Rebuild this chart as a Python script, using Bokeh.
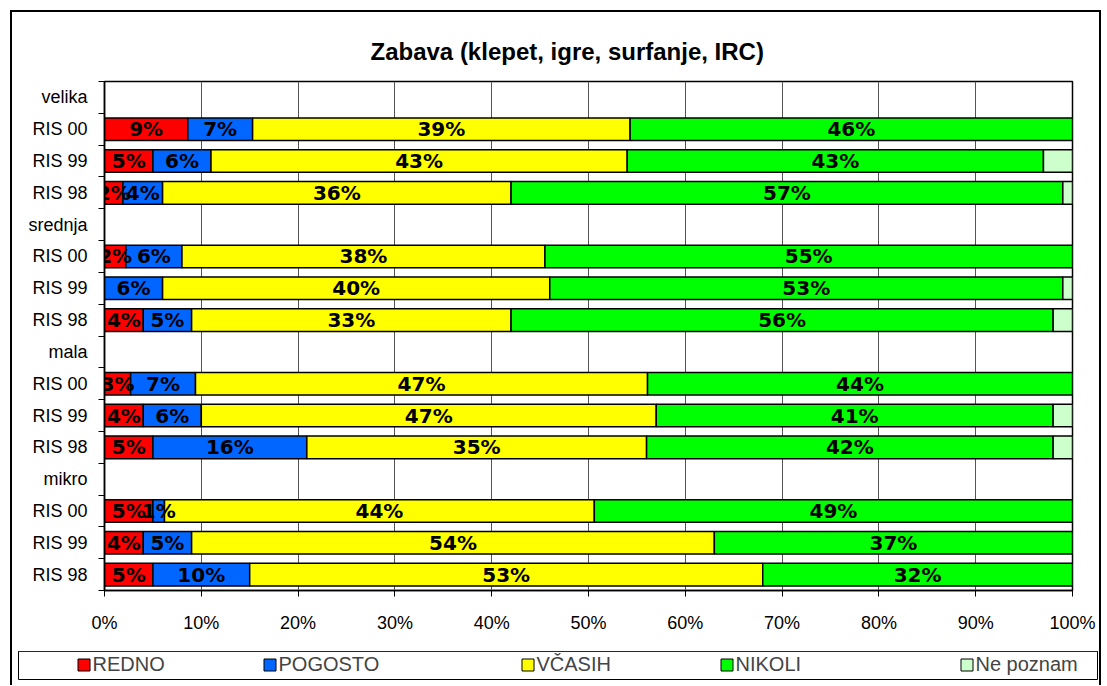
from bokeh.plotting import figure
from bokeh.layouts import column
from bokeh.models import (Range1d, FixedTicker, ColumnDataSource, Legend,
                          LegendItem)
from bokeh.core.properties import value
from bokeh.embed import file_html
from bokeh.resources import INLINE

title_text = "Zabava (klepet, igre, surfanje, IRC)"
groups = ["velika", "srednja", "mala", "mikro"]
years = ["RIS 00", "RIS 99", "RIS 98"]
series_names = ["REDNO", "POGOSTO", "VČASIH", "NIKOLI", "Ne poznam"]

# values per bar row, in order: velika 00/99/98, srednja 00/99/98, mala ..., mikro ...
redno = [8.6, 5.0, 1.9, 2.2, 0.0, 4.0, 2.7, 4.0, 5.0, 5.0, 4.0, 5.0]
pogosto = [6.7, 6.0, 4.1, 5.8, 6.0, 5.0, 6.7, 6.0, 15.9, 1.2, 5.0, 10.0]
vcasih = [39.0, 43.0, 36.0, 37.5, 40.0, 33.0, 46.7, 47.0, 35.1, 44.4, 54.0, 53.0]
nikoli = [45.7, 43.0, 57.0, 54.5, 53.0, 56.0, 43.9, 41.0, 42.0, 49.4, 37.0, 32.0]
ne_poznam = [0.0, 3.0, 1.0, 0.0, 1.0, 2.0, 0.0, 2.0, 2.0, 0.0, 0.0, 0.0]

x_ticks = [0, 10, 20, 30, 40, 50, 60, 70, 80, 90, 100]
x_tick_labels = ["0%", "10%", "20%", "30%", "40%", "50%", "60%", "70%", "80%", "90%", "100%"]

colors = ["#FF0000", "#0066FF", "#FFFF00", "#00FF00", "#CCFFCC"]
labelled = [True, True, True, True, False]

# build row layout (group header rows without bars)
row_labels = []
bar_y = []
for g in groups:
    row_labels.append(g)
    for yr in years:
        bar_y.append(len(row_labels) + 0.5)
        row_labels.append(yr)
n_rows = len(row_labels)

p = figure(width=1087, height=633, x_range=Range1d(0, 100),
           y_range=Range1d(n_rows, 0), output_backend="svg",
           toolbar_location=None, min_border_left=92, min_border_right=27,
           min_border_top=69, min_border_bottom=55)
p.background_fill_color = "white"
p.border_fill_color = "white"
p.outline_line_color = "black"
p.outline_line_width = 1.5

# title
p.title.text = title_text
p.title.text_font = "Liberation Sans"
p.title.text_font_size = "24px"
p.title.text_font_style = "bold"
p.title.text_color = "black"
p.title.align = "left"
p.title.offset = 266
p.title.standoff = 34

# axes
p.xaxis.ticker = FixedTicker(ticks=x_ticks)
p.xaxis.major_label_overrides = {t: l for t, l in zip(x_ticks, x_tick_labels)}
p.xaxis.major_label_text_font = "Liberation Sans"
p.xaxis.major_label_text_font_size = "18px"
p.xaxis.major_label_text_color = "black"
p.xaxis.major_tick_out = 6
p.xaxis.major_tick_in = 0
p.xaxis.major_label_standoff = 16
p.xaxis.axis_line_color = "black"
p.xaxis.axis_line_width = 1.5
p.xaxis.minor_tick_line_color = None

centers = [i + 0.5 for i in range(n_rows)]
bounds = [float(i) for i in range(n_rows + 1)]
p.yaxis.ticker = FixedTicker(ticks=centers, minor_ticks=bounds)
p.yaxis.major_label_overrides = {c: l for c, l in zip(centers, row_labels)}
p.yaxis.major_label_text_font = "Liberation Sans"
p.yaxis.major_label_text_font_size = "18px"
p.yaxis.major_label_text_color = "black"
p.yaxis.major_tick_out = 0
p.yaxis.major_tick_in = 0
p.yaxis.minor_tick_out = 6
p.yaxis.minor_tick_in = 0
p.yaxis.minor_tick_line_color = "black"
p.yaxis.major_label_standoff = 11
p.yaxis.axis_line_color = "black"
p.yaxis.axis_line_width = 1.5

p.ygrid.visible = False
p.xgrid.grid_line_color = "#555555"
p.xgrid.grid_line_width = 1

# stacked bars
series = [redno, pogosto, vcasih, nikoli, ne_poznam]
cum = [0.0] * len(bar_y)
txt_x, txt_y, txt = [], [], []
for k, vals in enumerate(series):
    ys, ls, rs = [], [], []
    for i, v in enumerate(vals):
        if v > 0:
            ys.append(bar_y[i])
            ls.append(cum[i])
            rs.append(cum[i] + v)
            if labelled[k]:
                txt_x.append(cum[i] + v / 2)
                txt_y.append(bar_y[i])
                txt.append(f"{int(v + 0.5)}%")
        cum[i] += v
    src = ColumnDataSource(dict(y=ys, left=ls, right=rs))
    p.hbar(y="y", left="left", right="right", height=0.71, source=src,
           fill_color=colors[k], line_color="black", line_width=1.5)

p.text(x=txt_x, y=txt_y, text=txt, text_font=value("DejaVu Sans"),
       text_font_style="bold", text_font_size="20px", text_align="center",
       text_baseline="middle", text_color="black")

# legend strip (its frame is the legend box)
lg = figure(width=1087, height=40, x_range=Range1d(0, 1), y_range=Range1d(0, 1),
            output_backend="svg", toolbar_location=None,
            x_axis_location=None, y_axis_location=None,
            min_border_left=6, min_border_right=2, min_border_top=6,
            min_border_bottom=6)
lg.grid.visible = False
lg.outline_line_color = "black"
lg.outline_line_width = 1
lg.background_fill_color = "white"
lg.border_fill_color = "white"

leg_x = [57.5, 243.5, 501.5, 700.5, 940.5]
for k, name in enumerate(series_names):
    # swatch renderer placed outside the visible range; used only for the legend key
    r = lg.hbar(y=[5], left=[0], right=[1], height=0.5, fill_color=colors[k],
                line_color="black", line_width=1)
    leg = Legend(items=[LegendItem(label=name, renderers=[r])],
                 location=(leg_x[k], 3), orientation="horizontal",
                 padding=0, margin=0, spacing=0, border_line_alpha=0,
                 background_fill_alpha=0, glyph_width=15, glyph_height=15,
                 label_height=15, label_standoff=2,
                 label_text_font="Liberation Sans", label_text_font_size="20px")
    lg.add_layout(leg)

top_part = column(p, spacing=0, styles={
    "margin-left": "10px", "margin-top": "10px",
    "border-left": "2px solid black", "border-top": "2px solid black",
    "border-right": "2px solid black"})
bottom_part = column(lg, spacing=0, styles={
    "margin-left": "10px",
    "border-left": "2px solid black", "border-right": "2px solid black"})

open("out.html", "w").write(file_html([top_part, bottom_part], INLINE))
